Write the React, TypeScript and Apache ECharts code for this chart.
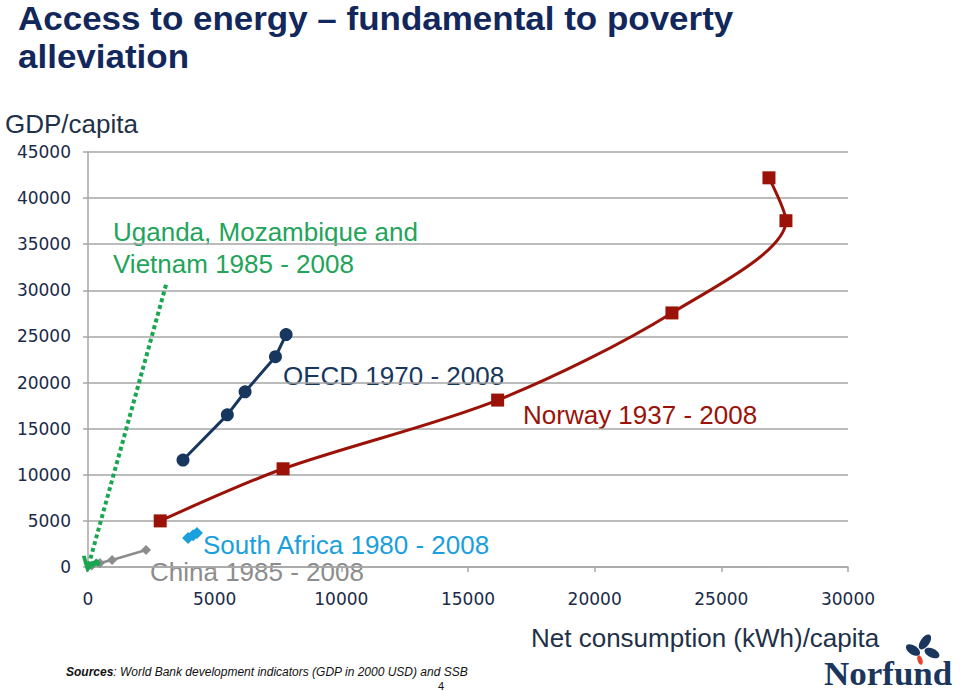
import React, { useEffect, useRef } from "react";
import * as echarts from "echarts";

// Net consumption (kWh)/capita vs GDP/capita
const norway: [number, number][] = [
  [2850, 5000],
  [7700, 10650],
  [16170, 18100],
  [23050, 27550],
  [27550, 37550],
  [26880, 42200],
];
const oecd: [number, number][] = [
  [3750, 11600],
  [5500, 16500],
  [6200, 19000],
  [7400, 22800],
  [7820, 25200],
];
const china: [number, number][] = [
  [150, 150],
  [470, 430],
  [950, 760],
  [2290, 1850],
];
const southAfrica: [number, number][] = [
  [3950, 3150],
  [4150, 3450],
  [4300, 3700],
];
const ugandaMozVietnam: [number, number][] = [
  [60, 250],
  [200, 300],
  [380, 420],
];
const arrowFrom: [number, number] = [3080, 30600];
const arrowTo: [number, number] = [30, 250];

const xTicks = { min: 0, max: 30000, interval: 5000 };
const yTicks = { min: 0, max: 45000, interval: 5000 };

const FONT = "'Liberation Sans', Arial, sans-serif";
const AXISFONT = "'DejaVu Sans', 'Liberation Sans', sans-serif";
const DARK = "#1a2a48";

export default function App() {
  const ref = useRef<HTMLDivElement>(null);
  useEffect(() => {
    if (!ref.current) return;
    const chart = echarts.init(ref.current, null, { renderer: "svg" });
    const txt = (
      text: string,
      x: number,
      y: number,
      size: number,
      fill: string,
      extra: any = {}
    ) => ({
      type: "text",
      x,
      y,
      scaleX: extra.scaleX || 1,
      silent: true,
      style: {
        text,
        fill,
        font: `${extra.weight || "normal"} ${size}px ${extra.family || FONT}`,
        verticalAlign: "middle",
        align: "left",
      },
    });
    chart.setOption({
      animation: false,
      backgroundColor: "#ffffff",
      grid: { left: 88, right: 112, top: 152, bottom: 124, containLabel: false },
      xAxis: {
        type: "value",
        ...xTicks,
        axisLine: { show: true, lineStyle: { color: "#a6a6a6", width: 1.5 } },
        axisTick: { show: true, length: 5, lineStyle: { color: "#a6a6a6", width: 1.5 } },
        splitLine: { show: false },
        axisLabel: {
          color: DARK,
          fontSize: 17,
          fontFamily: AXISFONT,
          margin: 23,
          formatter: (v: number) => String(v),
        },
      },
      yAxis: {
        type: "value",
        ...yTicks,
        axisLine: { show: true, lineStyle: { color: "#a6a6a6", width: 1.5 } },
        axisTick: { show: true, length: 5, lineStyle: { color: "#a6a6a6", width: 1.5 } },
        splitLine: { show: true, lineStyle: { color: "#a6a6a6", width: 1.5 } },
        axisLabel: {
          color: DARK,
          fontSize: 17,
          fontFamily: AXISFONT,
          margin: 17,
          formatter: (v: number) => String(v),
        },
      },
      series: [
        {
          name: "Norway 1937 - 2008",
          type: "line",
          data: norway,
          smooth: 0.3,
          symbol: "rect",
          symbolSize: 13,
          lineStyle: { color: "#9b1208", width: 3 },
          itemStyle: { color: "#9b1208" },
          z: 3,
        },
        {
          name: "OECD 1970 - 2008",
          type: "line",
          data: oecd,
          symbol: "circle",
          symbolSize: 13,
          lineStyle: { color: "#17375e", width: 3 },
          itemStyle: { color: "#17375e" },
          z: 4,
        },
        {
          name: "China 1985 - 2008",
          type: "line",
          data: china,
          symbol: "diamond",
          symbolSize: 10,
          lineStyle: { color: "#8c8c8c", width: 2.5 },
          itemStyle: { color: "#8c8c8c" },
          z: 4,
        },
        {
          name: "South Africa 1980 - 2008",
          type: "line",
          data: southAfrica,
          symbol: "diamond",
          symbolSize: 12,
          lineStyle: { color: "#1aa0dc", width: 2.5 },
          itemStyle: { color: "#1aa0dc" },
          z: 4,
        },
        {
          name: "Uganda, Mozambique and Vietnam 1985 - 2008",
          type: "line",
          data: ugandaMozVietnam,
          symbol: "diamond",
          symbolSize: 7,
          lineStyle: { color: "#1aa650", width: 3 },
          itemStyle: { color: "#1aa650" },
          z: 5,
          markLine: {
            silent: true,
            symbol: ["none", "path://M0,10 L5,0 L10,10 L8,11 L5,5 L2,11 Z"],
            symbolSize: [18, 16],
            label: { show: false },
            lineStyle: { color: "#1aa650", width: 4, type: [4, 3] },
            data: [[{ coord: arrowFrom }, { coord: arrowTo }]],
          },
        },
      ],
      graphic: [
        txt("Access to energy \u2013 fundamental to poverty", 18, 18, 33, "#12275b", { weight: "bold", scaleX: 1.06 }),
        txt("alleviation", 18, 56, 33, "#12275b", { weight: "bold", scaleX: 1.06 }),
        txt("GDP/capita", 5, 124, 26, "#1f3148"),
        txt("Uganda, Mozambique and", 113, 232, 26, "#22a45a"),
        txt("Vietnam 1985 - 2008", 113, 264, 26, "#22a45a"),
        txt("OECD 1970 - 2008", 283, 376, 26, "#17375e"),
        txt("Norway 1937 - 2008", 523, 415, 26, "#9b1208"),
        txt("South Africa 1980 - 2008", 203, 545, 26, "#1aa0dc"),
        txt("China 1985 - 2008", 150, 572, 26, "#8c8c8c"),
        txt("Net consumption (kWh)/capita", 531, 638, 26, "#1f3148"),
        {
          type: "text",
          x: 66,
          y: 672,
          silent: true,
          style: {
            text: "{b|Sources}: World Bank development indicators (GDP in 2000 USD) and SSB",
            fill: "#111111",
            font: `italic 12px ${FONT}`,
            verticalAlign: "middle",
            rich: { b: { font: `italic bold 12px ${FONT}`, fill: "#111111" } },
          },
        },
        txt("4", 438, 686, 11, "#111111"),
        txt("Norfund", 824, 674, 33, "#1b365d", {
          weight: "bold",
          family: "'Liberation Serif', 'DejaVu Serif', serif",
          scaleX: 1.06,
        }),
        {
          type: "ellipse",
          shape: { cx: 0, cy: 0, rx: 8, ry: 4.5 },
          x: 913,
          y: 650,
          rotation: -0.6,
          style: { fill: "#1b365d" },
        },
        {
          type: "ellipse",
          shape: { cx: 0, cy: 0, rx: 8.5, ry: 4.5 },
          x: 925,
          y: 642,
          rotation: 0.95,
          style: { fill: "#1b365d" },
        },
        {
          type: "ellipse",
          shape: { cx: 0, cy: 0, rx: 8, ry: 4.5 },
          x: 932,
          y: 653,
          rotation: -0.45,
          style: { fill: "#1b365d" },
        },
        {
          type: "ellipse",
          shape: { cx: 0, cy: 0, rx: 2.5, ry: 5 },
          x: 920,
          y: 660,
          rotation: 0.3,
          style: { fill: "#e8432e" },
        },
      ],
    });
    return () => chart.dispose();
  }, []);
  return (
    <div
      ref={ref}
      style={{ position: "fixed", left: 0, top: 0, width: 960, height: 691, background: "#fff" }}
    />
  );
}
